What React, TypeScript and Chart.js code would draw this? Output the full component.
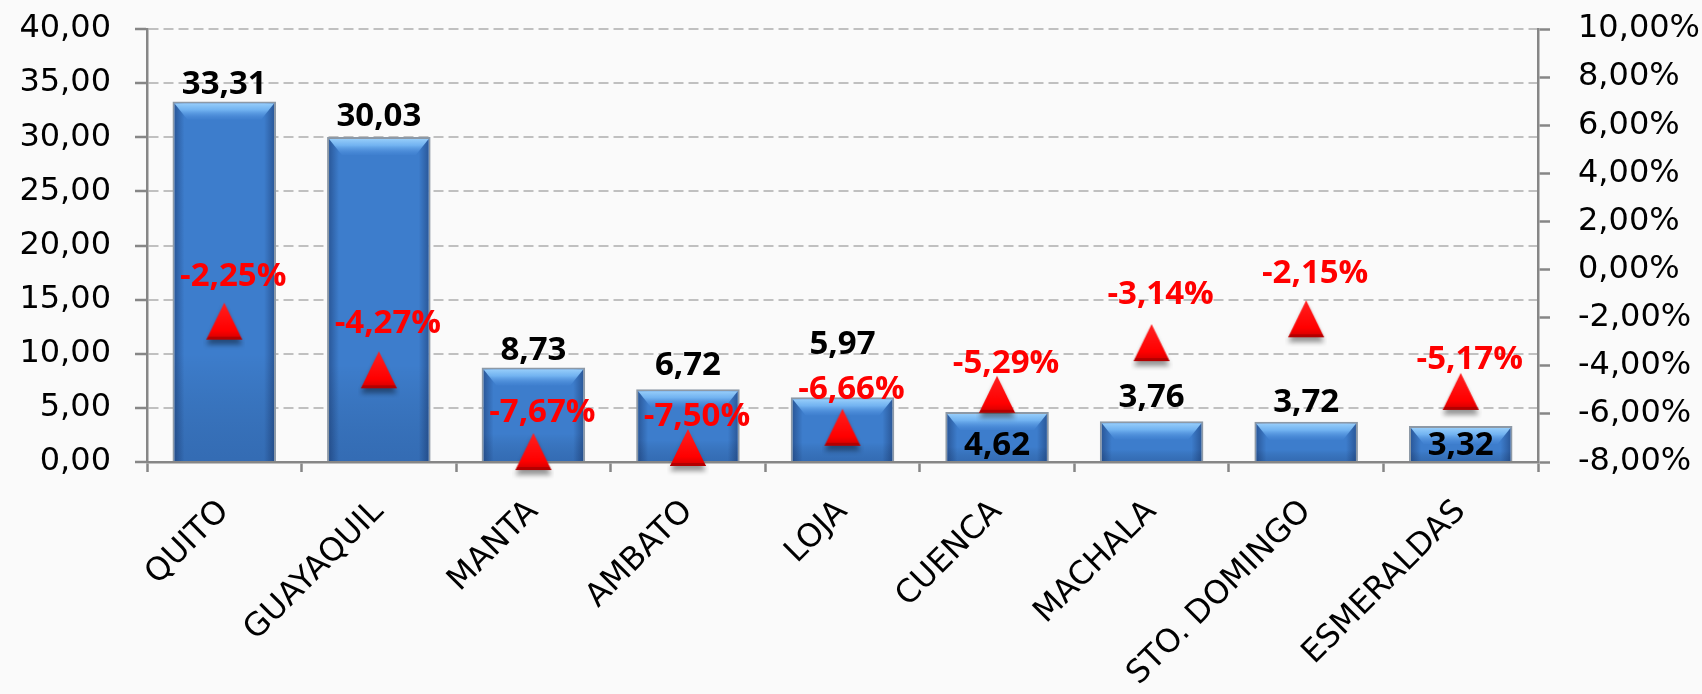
import React, { useEffect, useRef } from 'react';
import { Chart, registerables } from 'chart.js';

Chart.register(...registerables);

const categories = ['QUITO', 'GUAYAQUIL', 'MANTA', 'AMBATO', 'LOJA', 'CUENCA', 'MACHALA', 'STO. DOMINGO', 'ESMERALDAS'];
const barValues = [33.31, 30.03, 8.73, 6.72, 5.97, 4.62, 3.76, 3.72, 3.32];
const changeValues = [-2.25, -4.27, -7.67, -7.5, -6.66, -5.29, -3.14, -2.15, -5.17];
const leftTickValues = [0, 5, 10, 15, 20, 25, 30, 35, 40];
const rightTickValues = [-8, -6, -4, -2, 0, 2, 4, 6, 8, 10];

// label placement (layout config, not data)
const valueLabelInside = [false, false, false, false, false, true, false, false, true];
const valueLabelGap = [17, 20, 17, 24, 53, 0, 24, 19, 0];
const changeLabelGap = [47, 49, 41, 33, 40, 33, 50, 48, 34];

const FONT = '"DejaVu Sans", "Open Sans", sans-serif';
const LABEL_FONT = '"Open Sans", "DejaVu Sans", sans-serif';
const AXIS = '#868686';

const fmt = (v: number) => v.toFixed(2).replace('.', ',');
const fmtPct = (v: number) => v.toFixed(2).replace('.', ',') + '%';

function makeTriangle(): HTMLCanvasElement {
  const c = document.createElement('canvas');
  c.width = 42;
  c.height = 52;
  const g = c.getContext('2d')!;
  const cx = 21, top = 5, bottom = 42, half = 18;
  g.save();
  g.shadowColor = 'rgba(0,0,0,0.4)';
  g.shadowBlur = 5;
  g.shadowOffsetY = 5;
  g.beginPath();
  g.moveTo(cx, top);
  g.lineTo(cx + half, bottom);
  g.lineTo(cx - half, bottom);
  g.closePath();
  const grad = g.createLinearGradient(0, top, 0, bottom);
  grad.addColorStop(0, '#ff2020');
  grad.addColorStop(0.75, '#ff0000');
  grad.addColorStop(1, '#d00000');
  g.fillStyle = grad;
  g.fill();
  g.restore();
  g.fillStyle = '#b30000';
  g.beginPath();
  g.moveTo(cx - half, bottom);
  g.lineTo(cx + half, bottom);
  g.lineTo(cx + half - 2, bottom - 3);
  g.lineTo(cx - half + 2, bottom - 3);
  g.closePath();
  g.fill();
  return c;
}

const barBevelPlugin = {
  id: 'barBevel',
  afterDatasetDraw(chart: any, args: any) {
    if (args.index !== 0) return;
    const ctx = chart.ctx;
    const meta = chart.getDatasetMeta(0);
    ctx.save();
    meta.data.forEach((el: any) => {
      const { x, y, base, width } = el.getProps(['x', 'y', 'base', 'width'], true);
      const bw = 2;
      const l = x - width / 2 + bw, r = x + width / 2 - bw, t = y + bw, b = base;
      const w = r - l;
      const hg = ctx.createLinearGradient(l, 0, r, 0);
      hg.addColorStop(0, 'rgba(20,45,95,0.45)');
      hg.addColorStop(0.1, 'rgba(20,45,95,0.0)');
      hg.addColorStop(0.9, 'rgba(20,45,95,0.0)');
      hg.addColorStop(1, 'rgba(20,45,95,0.45)');
      ctx.fillStyle = hg;
      ctx.fillRect(l, t, w, b - t);
      const vg = ctx.createLinearGradient(0, t, 0, b);
      vg.addColorStop(0, 'rgba(0,0,0,0)');
      vg.addColorStop(0.7, 'rgba(0,0,0,0)');
      vg.addColorStop(1, 'rgba(10,30,70,0.18)');
      ctx.fillStyle = vg;
      ctx.fillRect(l, t, w, b - t);
      const bev = Math.min(16, (b - t) / 2);
      const tg = ctx.createLinearGradient(0, t, 0, t + bev);
      tg.addColorStop(0, 'rgba(150,205,250,1)');
      tg.addColorStop(0.4, 'rgba(120,185,245,0.9)');
      tg.addColorStop(1, 'rgba(75,140,220,0.2)');
      ctx.fillStyle = tg;
      ctx.beginPath();
      ctx.moveTo(l, t);
      ctx.lineTo(r, t);
      ctx.lineTo(r - bev * 0.8, t + bev);
      ctx.lineTo(l + bev * 0.8, t + bev);
      ctx.closePath();
      ctx.fill();
    });
    ctx.restore();
  },
};

const labelPlugin = {
  id: 'valueLabels',
  afterDatasetsDraw(chart: any) {
    const ctx = chart.ctx;
    const barMeta = chart.getDatasetMeta(0);
    const lineMeta = chart.getDatasetMeta(1);
    ctx.save();
    ctx.textAlign = 'center';
    ctx.textBaseline = 'middle';
    ctx.font = `bold 33px ${LABEL_FONT}`;
    ctx.fillStyle = '#000000';
    barMeta.data.forEach((el: any, i: number) => {
      const { x, y, base } = el.getProps(['x', 'y', 'base'], true);
      const cy = valueLabelInside[i] ? base - 15 : y - valueLabelGap[i];
      ctx.fillText(fmt(barValues[i]), x, cy);
    });
    ctx.font = `bold 33px ${LABEL_FONT}`;
    ctx.fillStyle = '#ff0000';
    lineMeta.data.forEach((el: any, i: number) => {
      const { x, y } = el.getProps(['x', 'y'], true);
      ctx.fillText(fmtPct(changeValues[i]), x + 9, y - changeLabelGap[i]);
    });
    ctx.restore();
  },
};

export default function App() {
  const ref = useRef<HTMLCanvasElement>(null);
  useEffect(() => {
    if (!ref.current) return;
    const tri = makeTriangle();
    const chart = new Chart(ref.current, {
      type: 'bar',
      data: {
        labels: categories,
        datasets: [
          {
            type: 'bar',
            label: 'Valor',
            data: barValues,
            yAxisID: 'y',
            backgroundColor: '#3d7dcc',
            borderColor: '#8d99a6',
            borderWidth: 2,
            borderSkipped: 'start',
            barPercentage: 0.67,
            categoryPercentage: 1,
            order: 1,
          },
          {
            type: 'line',
            label: 'Variación',
            data: changeValues,
            yAxisID: 'y1',
            showLine: false,
            pointStyle: tri as any,
            pointRadius: 20,
            pointHoverRadius: 20,
            backgroundColor: '#ff0000',
            borderColor: '#ff0000',
            clip: false as any,
            order: 0,
          },
        ],
      },
      options: {
        responsive: true,
        maintainAspectRatio: false,
        animation: false,
        events: [],
        layout: { padding: { top: 29, left: 0, right: 0, bottom: 0 } },
        plugins: { legend: { display: false }, tooltip: { enabled: false } },
        scales: {
          x: {
            offset: true,
            grid: {
              display: true,
              offset: true,
              drawOnChartArea: false,
              drawTicks: true,
              tickLength: 10,
              tickColor: AXIS,
              tickWidth: 2.5,
            },
            border: { display: true, color: AXIS, width: 2.5 },
            ticks: {
              color: '#000',
              font: { family: FONT, size: 32 },
              minRotation: 45,
              maxRotation: 45,
              autoSkip: false,
              padding: 21,
            },
            afterFit: (s: any) => { s.height = 232; s.paddingLeft = 0; s.paddingRight = 0; },
          },
          y: {
            position: 'left',
            min: 0,
            max: 40,
            afterBuildTicks: (s: any) => { s.ticks = leftTickValues.map((v) => ({ value: v })); },
            grid: {
              color: '#c0c0c0',
              lineWidth: 2,
              drawTicks: true,
              tickLength: 12,
              tickColor: AXIS,
              tickWidth: 2.5,
              tickBorderDash: [],
            },
            border: { display: true, color: AXIS, width: 2.5, dash: [10, 5] },
            ticks: {
              color: '#000',
              font: { family: FONT, size: 32 },
              padding: 24,
              callback: (v: any) => fmt(Number(v)),
            },
            afterFit: (s: any) => { s.width = 147; s.paddingTop = 0; s.paddingBottom = 0; },
          },
          y1: {
            position: 'right',
            min: -8,
            max: 10,
            afterBuildTicks: (s: any) => { s.ticks = rightTickValues.map((v) => ({ value: v })); },
            grid: {
              drawOnChartArea: false,
              drawTicks: true,
              tickLength: 12,
              tickColor: AXIS,
              tickWidth: 2.5,
            },
            border: { display: true, color: AXIS, width: 2.5 },
            ticks: {
              color: '#000',
              font: { family: FONT, size: 32 },
              padding: 28,
              callback: (v: any) => fmtPct(Number(v)),
            },
            afterFit: (s: any) => { s.width = 164; s.paddingTop = 0; s.paddingBottom = 0; },
          },
        },
      },
      plugins: [barBevelPlugin, labelPlugin],
    } as any);
    return () => chart.destroy();
  }, []);
  return (
    <div style={{ position: 'fixed', left: 0, top: 0, width: '100vw', height: '100vh', background: '#fafafa' }}>
      <canvas ref={ref} />
    </div>
  );
}
